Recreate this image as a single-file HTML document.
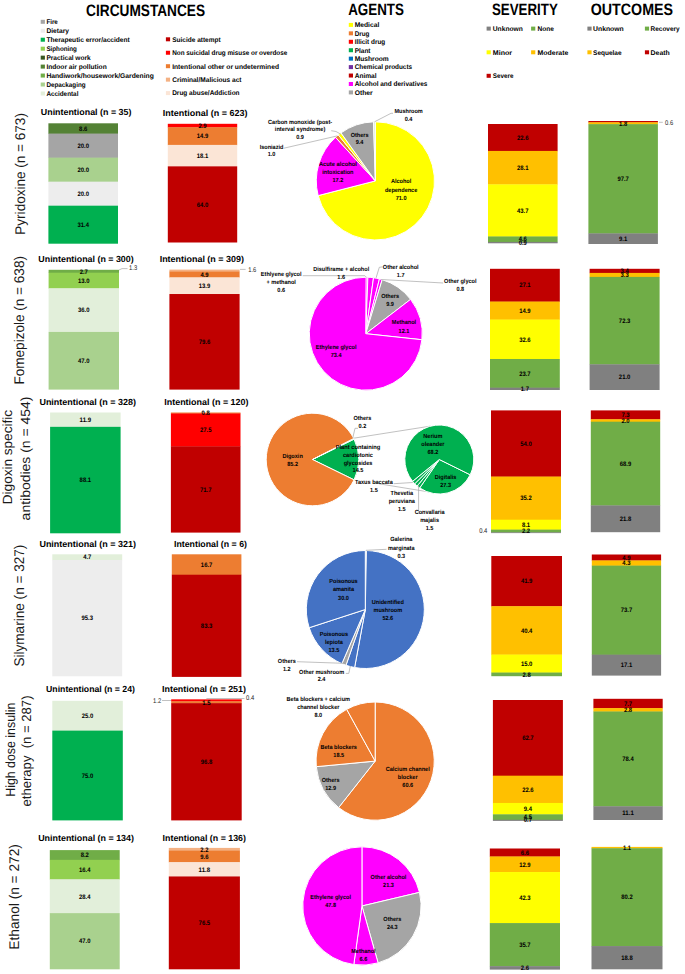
<!DOCTYPE html>
<html><head><meta charset="utf-8"><style>
html,body{margin:0;padding:0;background:#fff;}
svg{display:block;font-family:"Liberation Sans", sans-serif;text-rendering:geometricPrecision;}
</style></head><body>
<svg width="685" height="974" viewBox="0 0 685 974">
<rect width="685" height="974" fill="#fff"/>
<text x="145.60" y="15.90" font-size="16.5" font-weight="bold" text-anchor="middle" fill="#000" textLength="119" lengthAdjust="spacingAndGlyphs">CIRCUMSTANCES</text>
<text x="376.10" y="14.90" font-size="16.5" font-weight="bold" text-anchor="middle" fill="#000" textLength="55.8" lengthAdjust="spacingAndGlyphs">AGENTS</text>
<text x="524.90" y="14.60" font-size="16.5" font-weight="bold" text-anchor="middle" fill="#000" textLength="65.8" lengthAdjust="spacingAndGlyphs">SEVERITY</text>
<text x="631.90" y="14.60" font-size="16.5" font-weight="bold" text-anchor="middle" fill="#000" textLength="82.3" lengthAdjust="spacingAndGlyphs">OUTCOMES</text>
<rect x="40.70" y="19.80" width="4.20" height="4.00" fill="#a5a5a5"/>
<text x="46.40" y="24.10" font-size="6.75" font-weight="bold" text-anchor="start" fill="#000" textLength="11.4" lengthAdjust="spacingAndGlyphs">Fire</text>
<rect x="40.70" y="28.76" width="4.20" height="4.00" fill="#ededed"/>
<text x="46.40" y="33.06" font-size="6.75" font-weight="bold" text-anchor="start" fill="#000" textLength="22.6" lengthAdjust="spacingAndGlyphs">Dietary</text>
<rect x="40.70" y="37.72" width="4.20" height="4.00" fill="#00b050"/>
<text x="46.40" y="42.02" font-size="6.75" font-weight="bold" text-anchor="start" fill="#000" textLength="83.4" lengthAdjust="spacingAndGlyphs">Therapeutic error/accident</text>
<rect x="40.70" y="46.68" width="4.20" height="4.00" fill="#92d050"/>
<text x="46.40" y="50.98" font-size="6.75" font-weight="bold" text-anchor="start" fill="#000" textLength="30.5" lengthAdjust="spacingAndGlyphs">Siphoning</text>
<rect x="40.70" y="55.64" width="4.20" height="4.00" fill="#375623"/>
<text x="46.40" y="59.94" font-size="6.75" font-weight="bold" text-anchor="start" fill="#000" textLength="44.2" lengthAdjust="spacingAndGlyphs">Practical work</text>
<rect x="40.70" y="64.60" width="4.20" height="4.00" fill="#548235"/>
<text x="46.40" y="68.90" font-size="6.75" font-weight="bold" text-anchor="start" fill="#000" textLength="60.3" lengthAdjust="spacingAndGlyphs">Indoor air pollution</text>
<rect x="40.70" y="73.56" width="4.20" height="4.00" fill="#70ad47"/>
<text x="46.40" y="77.86" font-size="6.75" font-weight="bold" text-anchor="start" fill="#000" textLength="107.4" lengthAdjust="spacingAndGlyphs">Handiwork/housework/Gardening</text>
<rect x="40.70" y="82.52" width="4.20" height="4.00" fill="#a9d18e"/>
<text x="46.40" y="86.82" font-size="6.75" font-weight="bold" text-anchor="start" fill="#000" textLength="39.2" lengthAdjust="spacingAndGlyphs">Depackaging</text>
<rect x="40.70" y="91.48" width="4.20" height="4.00" fill="#e2efda"/>
<text x="46.40" y="95.78" font-size="6.75" font-weight="bold" text-anchor="start" fill="#000" textLength="32" lengthAdjust="spacingAndGlyphs">Accidental</text>
<rect x="165.90" y="37.30" width="4.20" height="4.00" fill="#c00000"/>
<text x="172.20" y="41.60" font-size="6.75" font-weight="bold" text-anchor="start" fill="#000" textLength="48.5" lengthAdjust="spacingAndGlyphs">Suicide attempt</text>
<rect x="165.90" y="50.75" width="4.20" height="4.00" fill="#ff0000"/>
<text x="172.20" y="55.05" font-size="6.75" font-weight="bold" text-anchor="start" fill="#000" textLength="115.1" lengthAdjust="spacingAndGlyphs">Non suicidal drug misuse or overdose</text>
<rect x="165.90" y="64.20" width="4.20" height="4.00" fill="#ed7d31"/>
<text x="172.20" y="68.50" font-size="6.75" font-weight="bold" text-anchor="start" fill="#000" textLength="106.8" lengthAdjust="spacingAndGlyphs">Intentional other or undetermined</text>
<rect x="165.90" y="77.65" width="4.20" height="4.00" fill="#f4b183"/>
<text x="172.20" y="81.95" font-size="6.75" font-weight="bold" text-anchor="start" fill="#000" textLength="69.3" lengthAdjust="spacingAndGlyphs">Criminal/Malicious act</text>
<rect x="165.90" y="91.10" width="4.20" height="4.00" fill="#fbe5d6"/>
<text x="172.20" y="95.40" font-size="6.75" font-weight="bold" text-anchor="start" fill="#000" textLength="67.4" lengthAdjust="spacingAndGlyphs">Drug abuse/Addiction</text>
<rect x="348.80" y="22.90" width="4.20" height="4.00" fill="#ffff00"/>
<text x="354.70" y="27.20" font-size="6.75" font-weight="bold" text-anchor="start" fill="#000" textLength="24.6" lengthAdjust="spacingAndGlyphs">Medical</text>
<rect x="348.80" y="31.34" width="4.20" height="4.00" fill="#ed7d31"/>
<text x="354.70" y="35.64" font-size="6.75" font-weight="bold" text-anchor="start" fill="#000" textLength="14.7" lengthAdjust="spacingAndGlyphs">Drug</text>
<rect x="348.80" y="39.78" width="4.20" height="4.00" fill="#ff0000"/>
<text x="354.70" y="44.08" font-size="6.75" font-weight="bold" text-anchor="start" fill="#000" textLength="30.5" lengthAdjust="spacingAndGlyphs">Illicit drug</text>
<rect x="348.80" y="48.22" width="4.20" height="4.00" fill="#00b050"/>
<text x="354.70" y="52.52" font-size="6.75" font-weight="bold" text-anchor="start" fill="#000" textLength="15.8" lengthAdjust="spacingAndGlyphs">Plant</text>
<rect x="348.80" y="56.66" width="4.20" height="4.00" fill="#0070c0"/>
<text x="354.70" y="60.96" font-size="6.75" font-weight="bold" text-anchor="start" fill="#000" textLength="34" lengthAdjust="spacingAndGlyphs">Mushroom</text>
<rect x="348.80" y="65.10" width="4.20" height="4.00" fill="#7030a0"/>
<text x="354.70" y="69.40" font-size="6.75" font-weight="bold" text-anchor="start" fill="#000" textLength="57.4" lengthAdjust="spacingAndGlyphs">Chemical products</text>
<rect x="348.80" y="73.54" width="4.20" height="4.00" fill="#c00000"/>
<text x="354.70" y="77.84" font-size="6.75" font-weight="bold" text-anchor="start" fill="#000" textLength="21.9" lengthAdjust="spacingAndGlyphs">Animal</text>
<rect x="348.80" y="81.98" width="4.20" height="4.00" fill="#ff00ff"/>
<text x="354.70" y="86.28" font-size="6.75" font-weight="bold" text-anchor="start" fill="#000" textLength="72.7" lengthAdjust="spacingAndGlyphs">Alcohol and derivatives</text>
<rect x="348.80" y="90.42" width="4.20" height="4.00" fill="#a5a5a5"/>
<text x="354.70" y="94.72" font-size="6.75" font-weight="bold" text-anchor="start" fill="#000" textLength="18" lengthAdjust="spacingAndGlyphs">Other</text>
<rect x="486.60" y="26.60" width="4.20" height="4.00" fill="#808080"/>
<text x="492.80" y="30.90" font-size="6.75" font-weight="bold" text-anchor="start" fill="#000" textLength="30" lengthAdjust="spacingAndGlyphs">Unknown</text>
<rect x="531.10" y="26.60" width="4.20" height="4.00" fill="#70ad47"/>
<text x="537.60" y="30.90" font-size="6.75" font-weight="bold" text-anchor="start" fill="#000" textLength="16.4" lengthAdjust="spacingAndGlyphs">None</text>
<rect x="486.60" y="50.30" width="4.20" height="4.00" fill="#ffff00"/>
<text x="492.80" y="54.60" font-size="6.75" font-weight="bold" text-anchor="start" fill="#000" textLength="19.2" lengthAdjust="spacingAndGlyphs">Minor</text>
<rect x="531.10" y="50.30" width="4.20" height="4.00" fill="#ffc000"/>
<text x="537.60" y="54.60" font-size="6.75" font-weight="bold" text-anchor="start" fill="#000" textLength="30.8" lengthAdjust="spacingAndGlyphs">Moderate</text>
<rect x="486.60" y="73.80" width="4.20" height="4.00" fill="#c00000"/>
<text x="492.80" y="78.10" font-size="6.75" font-weight="bold" text-anchor="start" fill="#000" textLength="20.7" lengthAdjust="spacingAndGlyphs">Severe</text>
<rect x="587.40" y="26.60" width="4.20" height="4.00" fill="#808080"/>
<text x="593.10" y="30.90" font-size="6.75" font-weight="bold" text-anchor="start" fill="#000" textLength="30.6" lengthAdjust="spacingAndGlyphs">Unknown</text>
<rect x="644.90" y="26.60" width="4.20" height="4.00" fill="#70ad47"/>
<text x="650.60" y="30.90" font-size="6.75" font-weight="bold" text-anchor="start" fill="#000" textLength="29" lengthAdjust="spacingAndGlyphs">Recovery</text>
<rect x="587.40" y="50.30" width="4.20" height="4.00" fill="#ffc000"/>
<text x="593.10" y="54.60" font-size="6.75" font-weight="bold" text-anchor="start" fill="#000" textLength="28.5" lengthAdjust="spacingAndGlyphs">Sequelae</text>
<rect x="644.90" y="50.30" width="4.20" height="4.00" fill="#c00000"/>
<text x="650.60" y="54.60" font-size="6.75" font-weight="bold" text-anchor="start" fill="#000" textLength="19.2" lengthAdjust="spacingAndGlyphs">Death</text>
<text transform="translate(24.70,173.90) rotate(-90)" x="0" y="0" font-size="14" text-anchor="middle" fill="#1a1a1a" textLength="121.6" lengthAdjust="spacingAndGlyphs">Pyridoxine (n = 673)</text>
<text transform="translate(24.00,320.30) rotate(-90)" x="0" y="0" font-size="14" text-anchor="middle" fill="#1a1a1a" textLength="128.5" lengthAdjust="spacingAndGlyphs">Fomepizole (n = 638)</text>
<text transform="translate(12.00,457.10) rotate(-90)" x="0" y="0" font-size="13.3" text-anchor="middle" fill="#1a1a1a" textLength="94.2" lengthAdjust="spacingAndGlyphs">Digoxin specific</text>
<text transform="translate(30.20,458.45) rotate(-90)" x="0" y="0" font-size="13.3" text-anchor="middle" fill="#1a1a1a" textLength="123.9" lengthAdjust="spacingAndGlyphs">antibodies (n = 454)</text>
<text transform="translate(24.40,605.60) rotate(-90)" x="0" y="0" font-size="14" text-anchor="middle" fill="#1a1a1a" textLength="122.0" lengthAdjust="spacingAndGlyphs">Silymarine (n = 327)</text>
<text transform="translate(15.40,749.70) rotate(-90)" x="0" y="0" font-size="13.3" text-anchor="middle" fill="#1a1a1a" textLength="94.2" lengthAdjust="spacingAndGlyphs">High dose insulin</text>
<text transform="translate(31.40,751.00) rotate(-90)" x="0" y="0" font-size="13.3" text-anchor="middle" fill="#1a1a1a" textLength="111.0" lengthAdjust="spacingAndGlyphs">etherapy&#160; (n = 287)</text>
<text transform="translate(19.00,896.90) rotate(-90)" x="0" y="0" font-size="14" text-anchor="middle" fill="#1a1a1a" textLength="105.5" lengthAdjust="spacingAndGlyphs">Ethanol (n = 272)</text>
<text x="86.10" y="115.00" font-size="8.8" font-weight="bold" text-anchor="middle" fill="#000" textLength="90.6" lengthAdjust="spacingAndGlyphs">Unintentional (n = 35)</text>
<text x="205.10" y="116.00" font-size="8.8" font-weight="bold" text-anchor="middle" fill="#000" textLength="84.6" lengthAdjust="spacingAndGlyphs">Intentional (n = 623)</text>
<text x="86.00" y="262.30" font-size="8.8" font-weight="bold" text-anchor="middle" fill="#000" textLength="95.3" lengthAdjust="spacingAndGlyphs">Unintentional (n = 300)</text>
<text x="201.80" y="262.30" font-size="8.8" font-weight="bold" text-anchor="middle" fill="#000" textLength="84.3" lengthAdjust="spacingAndGlyphs">Intentional (n = 309)</text>
<text x="87.70" y="404.70" font-size="8.8" font-weight="bold" text-anchor="middle" fill="#000" textLength="96.6" lengthAdjust="spacingAndGlyphs">Unintentional (n = 328)</text>
<text x="206.40" y="404.70" font-size="8.8" font-weight="bold" text-anchor="middle" fill="#000" textLength="84.3" lengthAdjust="spacingAndGlyphs">Intentional (n = 120)</text>
<text x="87.70" y="546.60" font-size="8.8" font-weight="bold" text-anchor="middle" fill="#000" textLength="96.6" lengthAdjust="spacingAndGlyphs">Unintentional (n = 321)</text>
<text x="210.50" y="546.60" font-size="8.8" font-weight="bold" text-anchor="middle" fill="#000" textLength="73" lengthAdjust="spacingAndGlyphs">Intentional (n = 6)</text>
<text x="90.50" y="692.30" font-size="8.8" font-weight="bold" text-anchor="middle" fill="#000" textLength="88.9" lengthAdjust="spacingAndGlyphs">Unintentional (n = 24)</text>
<text x="204.00" y="692.30" font-size="8.8" font-weight="bold" text-anchor="middle" fill="#000" textLength="84" lengthAdjust="spacingAndGlyphs">Intentional (n = 251)</text>
<text x="86.10" y="840.50" font-size="8.8" font-weight="bold" text-anchor="middle" fill="#000" textLength="95.8" lengthAdjust="spacingAndGlyphs">Unintentional (n = 134)</text>
<text x="204.30" y="840.50" font-size="8.8" font-weight="bold" text-anchor="middle" fill="#000" textLength="83.4" lengthAdjust="spacingAndGlyphs">Intentional (n = 136)</text>
<rect x="48.40" y="123.30" width="69.60" height="10.63" fill="#548235"/>
<rect x="48.40" y="133.63" width="69.60" height="24.32" fill="#a5a5a5"/>
<rect x="48.40" y="157.65" width="69.60" height="24.32" fill="#a9d18e"/>
<rect x="48.40" y="181.67" width="69.60" height="24.32" fill="#ededed"/>
<rect x="48.40" y="205.69" width="69.60" height="38.01" fill="#00b050"/>
<text x="83.20" y="130.77" font-size="6.4" font-weight="bold" text-anchor="middle" fill="#000" textLength="8.18" lengthAdjust="spacingAndGlyphs">8.6</text>
<text x="83.20" y="147.94" font-size="6.4" font-weight="bold" text-anchor="middle" fill="#000" textLength="11.46" lengthAdjust="spacingAndGlyphs">20.0</text>
<text x="83.20" y="171.96" font-size="6.4" font-weight="bold" text-anchor="middle" fill="#000" textLength="11.46" lengthAdjust="spacingAndGlyphs">20.0</text>
<text x="83.20" y="195.98" font-size="6.4" font-weight="bold" text-anchor="middle" fill="#000" textLength="11.46" lengthAdjust="spacingAndGlyphs">20.0</text>
<text x="83.20" y="226.85" font-size="6.4" font-weight="bold" text-anchor="middle" fill="#000" textLength="11.46" lengthAdjust="spacingAndGlyphs">31.4</text>
<rect x="167.80" y="123.80" width="69.40" height="3.74" fill="#ff0000"/>
<rect x="167.80" y="127.24" width="69.40" height="17.96" fill="#ed7d31"/>
<rect x="167.80" y="144.90" width="69.40" height="21.75" fill="#fbe5d6"/>
<rect x="167.80" y="166.35" width="69.40" height="76.15" fill="#c00000"/>
<text x="202.50" y="127.82" font-size="6.4" font-weight="bold" text-anchor="middle" fill="#000" textLength="8.18" lengthAdjust="spacingAndGlyphs">2.9</text>
<text x="202.50" y="138.37" font-size="6.4" font-weight="bold" text-anchor="middle" fill="#000" textLength="11.46" lengthAdjust="spacingAndGlyphs">14.9</text>
<text x="202.50" y="157.93" font-size="6.4" font-weight="bold" text-anchor="middle" fill="#000" textLength="11.46" lengthAdjust="spacingAndGlyphs">18.1</text>
<text x="202.50" y="206.58" font-size="6.4" font-weight="bold" text-anchor="middle" fill="#000" textLength="11.46" lengthAdjust="spacingAndGlyphs">64.0</text>
<rect x="488.00" y="124.00" width="69.60" height="27.22" fill="#c00000"/>
<rect x="488.00" y="150.92" width="69.60" height="33.77" fill="#ffc000"/>
<rect x="488.00" y="184.39" width="69.60" height="52.36" fill="#ffff00"/>
<rect x="488.00" y="236.45" width="69.60" height="5.78" fill="#70ad47"/>
<rect x="488.00" y="241.93" width="69.60" height="1.37" fill="#808080"/>
<text x="522.80" y="139.76" font-size="6.4" font-weight="bold" text-anchor="middle" fill="#000" textLength="11.46" lengthAdjust="spacingAndGlyphs">22.6</text>
<text x="522.80" y="169.96" font-size="6.4" font-weight="bold" text-anchor="middle" fill="#000" textLength="11.46" lengthAdjust="spacingAndGlyphs">28.1</text>
<text x="522.80" y="212.72" font-size="6.4" font-weight="bold" text-anchor="middle" fill="#000" textLength="11.46" lengthAdjust="spacingAndGlyphs">43.7</text>
<text x="522.80" y="241.49" font-size="6.4" font-weight="bold" text-anchor="middle" fill="#000" textLength="8.18" lengthAdjust="spacingAndGlyphs">4.6</text>
<text x="522.80" y="244.77" font-size="6.4" font-weight="bold" text-anchor="middle" fill="#000" textLength="8.18" lengthAdjust="spacingAndGlyphs">0.9</text>
<rect x="588.40" y="121.00" width="69.50" height="1.60" fill="#c00000"/>
<rect x="588.40" y="122.30" width="69.50" height="2.14" fill="#ffc000"/>
<rect x="588.40" y="124.14" width="69.50" height="109.55" fill="#70ad47"/>
<rect x="588.40" y="233.39" width="69.50" height="10.61" fill="#808080"/>
<text x="623.15" y="125.53" font-size="6.4" font-weight="bold" text-anchor="middle" fill="#000" textLength="8.18" lengthAdjust="spacingAndGlyphs">1.8</text>
<text x="623.15" y="181.07" font-size="6.4" font-weight="bold" text-anchor="middle" fill="#000" textLength="11.46" lengthAdjust="spacingAndGlyphs">97.7</text>
<text x="623.15" y="240.85" font-size="6.4" font-weight="bold" text-anchor="middle" fill="#000" textLength="8.18" lengthAdjust="spacingAndGlyphs">9.1</text>
<rect x="48.60" y="269.80" width="70.40" height="3.20" fill="#70ad47"/>
<rect x="48.60" y="272.70" width="70.40" height="15.91" fill="#92d050"/>
<rect x="48.60" y="288.32" width="70.40" height="43.94" fill="#e2efda"/>
<rect x="48.60" y="331.95" width="70.40" height="57.65" fill="#a9d18e"/>
<text x="83.80" y="273.56" font-size="6.4" font-weight="bold" text-anchor="middle" fill="#000" textLength="8.18" lengthAdjust="spacingAndGlyphs">2.7</text>
<text x="83.80" y="282.81" font-size="6.4" font-weight="bold" text-anchor="middle" fill="#000" textLength="11.46" lengthAdjust="spacingAndGlyphs">13.0</text>
<text x="83.80" y="312.44" font-size="6.4" font-weight="bold" text-anchor="middle" fill="#000" textLength="11.46" lengthAdjust="spacingAndGlyphs">36.0</text>
<text x="83.80" y="362.93" font-size="6.4" font-weight="bold" text-anchor="middle" fill="#000" textLength="11.46" lengthAdjust="spacingAndGlyphs">47.0</text>
<rect x="169.40" y="269.60" width="70.20" height="2.22" fill="#f4b183"/>
<rect x="169.40" y="271.52" width="70.20" height="6.17" fill="#ed7d31"/>
<rect x="169.40" y="277.38" width="70.20" height="16.94" fill="#fbe5d6"/>
<rect x="169.40" y="294.02" width="70.20" height="95.58" fill="#c00000"/>
<text x="204.50" y="276.75" font-size="6.4" font-weight="bold" text-anchor="middle" fill="#000" textLength="8.18" lengthAdjust="spacingAndGlyphs">4.9</text>
<text x="204.50" y="288.00" font-size="6.4" font-weight="bold" text-anchor="middle" fill="#000" textLength="11.46" lengthAdjust="spacingAndGlyphs">13.9</text>
<text x="204.50" y="343.96" font-size="6.4" font-weight="bold" text-anchor="middle" fill="#000" textLength="11.46" lengthAdjust="spacingAndGlyphs">79.6</text>
<rect x="490.00" y="268.80" width="69.80" height="33.06" fill="#c00000"/>
<rect x="490.00" y="301.56" width="69.80" height="18.31" fill="#ffc000"/>
<rect x="490.00" y="319.58" width="69.80" height="39.71" fill="#ffff00"/>
<rect x="490.00" y="358.99" width="69.80" height="28.95" fill="#70ad47"/>
<rect x="490.00" y="387.64" width="69.80" height="2.36" fill="#808080"/>
<text x="524.90" y="287.49" font-size="6.4" font-weight="bold" text-anchor="middle" fill="#000" textLength="11.46" lengthAdjust="spacingAndGlyphs">27.1</text>
<text x="524.90" y="312.87" font-size="6.4" font-weight="bold" text-anchor="middle" fill="#000" textLength="11.46" lengthAdjust="spacingAndGlyphs">14.9</text>
<text x="524.90" y="341.59" font-size="6.4" font-weight="bold" text-anchor="middle" fill="#000" textLength="11.46" lengthAdjust="spacingAndGlyphs">32.6</text>
<text x="524.90" y="375.62" font-size="6.4" font-weight="bold" text-anchor="middle" fill="#000" textLength="11.46" lengthAdjust="spacingAndGlyphs">23.7</text>
<text x="524.90" y="390.98" font-size="6.4" font-weight="bold" text-anchor="middle" fill="#000" textLength="8.18" lengthAdjust="spacingAndGlyphs">1.7</text>
<rect x="589.60" y="268.80" width="70.00" height="4.41" fill="#c00000"/>
<rect x="589.60" y="272.91" width="70.00" height="4.29" fill="#ffc000"/>
<rect x="589.60" y="276.90" width="70.00" height="87.71" fill="#70ad47"/>
<rect x="589.60" y="364.31" width="70.00" height="25.69" fill="#808080"/>
<text x="624.60" y="273.16" font-size="6.4" font-weight="bold" text-anchor="middle" fill="#000" textLength="8.18" lengthAdjust="spacingAndGlyphs">3.4</text>
<text x="624.60" y="277.21" font-size="6.4" font-weight="bold" text-anchor="middle" fill="#000" textLength="8.18" lengthAdjust="spacingAndGlyphs">3.3</text>
<text x="624.60" y="322.91" font-size="6.4" font-weight="bold" text-anchor="middle" fill="#000" textLength="11.46" lengthAdjust="spacingAndGlyphs">72.3</text>
<text x="624.60" y="379.31" font-size="6.4" font-weight="bold" text-anchor="middle" fill="#000" textLength="11.46" lengthAdjust="spacingAndGlyphs">21.0</text>
<rect x="50.10" y="412.50" width="70.50" height="14.64" fill="#e2efda"/>
<rect x="50.10" y="426.84" width="70.50" height="106.46" fill="#00b050"/>
<text x="85.35" y="421.97" font-size="6.4" font-weight="bold" text-anchor="middle" fill="#000" textLength="11.46" lengthAdjust="spacingAndGlyphs">11.9</text>
<text x="85.35" y="482.22" font-size="6.4" font-weight="bold" text-anchor="middle" fill="#000" textLength="11.46" lengthAdjust="spacingAndGlyphs">88.1</text>
<rect x="170.90" y="412.50" width="69.60" height="1.26" fill="#ed7d31"/>
<rect x="170.90" y="413.46" width="69.60" height="33.25" fill="#ff0000"/>
<rect x="170.90" y="446.40" width="69.60" height="86.20" fill="#c00000"/>
<text x="205.70" y="415.28" font-size="6.4" font-weight="bold" text-anchor="middle" fill="#000" textLength="8.18" lengthAdjust="spacingAndGlyphs">0.8</text>
<text x="205.70" y="432.23" font-size="6.4" font-weight="bold" text-anchor="middle" fill="#000" textLength="11.46" lengthAdjust="spacingAndGlyphs">27.5</text>
<text x="205.70" y="491.66" font-size="6.4" font-weight="bold" text-anchor="middle" fill="#000" textLength="11.46" lengthAdjust="spacingAndGlyphs">71.7</text>
<rect x="491.00" y="410.40" width="70.00" height="66.46" fill="#c00000"/>
<rect x="491.00" y="476.56" width="70.00" height="43.43" fill="#ffc000"/>
<rect x="491.00" y="519.69" width="70.00" height="10.22" fill="#ffff00"/>
<rect x="491.00" y="529.61" width="70.00" height="3.00" fill="#70ad47"/>
<rect x="491.00" y="532.31" width="70.00" height="0.79" fill="#808080"/>
<text x="526.00" y="445.79" font-size="6.4" font-weight="bold" text-anchor="middle" fill="#000" textLength="11.46" lengthAdjust="spacingAndGlyphs">54.0</text>
<text x="526.00" y="500.43" font-size="6.4" font-weight="bold" text-anchor="middle" fill="#000" textLength="11.46" lengthAdjust="spacingAndGlyphs">35.2</text>
<text x="526.00" y="526.96" font-size="6.4" font-weight="bold" text-anchor="middle" fill="#000" textLength="8.18" lengthAdjust="spacingAndGlyphs">8.1</text>
<text x="526.00" y="533.27" font-size="6.4" font-weight="bold" text-anchor="middle" fill="#000" textLength="8.18" lengthAdjust="spacingAndGlyphs">2.2</text>
<rect x="590.80" y="410.40" width="69.40" height="9.17" fill="#c00000"/>
<rect x="590.80" y="419.27" width="69.40" height="2.73" fill="#ffc000"/>
<rect x="590.80" y="421.70" width="69.40" height="84.01" fill="#70ad47"/>
<rect x="590.80" y="505.41" width="69.40" height="26.79" fill="#808080"/>
<text x="625.50" y="417.14" font-size="6.4" font-weight="bold" text-anchor="middle" fill="#000" textLength="8.18" lengthAdjust="spacingAndGlyphs">7.3</text>
<text x="625.50" y="422.79" font-size="6.4" font-weight="bold" text-anchor="middle" fill="#000" textLength="8.18" lengthAdjust="spacingAndGlyphs">2.0</text>
<text x="625.50" y="465.86" font-size="6.4" font-weight="bold" text-anchor="middle" fill="#000" textLength="11.46" lengthAdjust="spacingAndGlyphs">68.9</text>
<text x="625.50" y="520.96" font-size="6.4" font-weight="bold" text-anchor="middle" fill="#000" textLength="11.46" lengthAdjust="spacingAndGlyphs">21.8</text>
<rect x="52.30" y="554.30" width="69.90" height="6.02" fill="#e2efda"/>
<rect x="52.30" y="560.02" width="69.90" height="116.28" fill="#ededed"/>
<text x="87.25" y="559.46" font-size="6.4" font-weight="bold" text-anchor="middle" fill="#000" textLength="8.18" lengthAdjust="spacingAndGlyphs">4.7</text>
<text x="87.25" y="620.31" font-size="6.4" font-weight="bold" text-anchor="middle" fill="#000" textLength="11.46" lengthAdjust="spacingAndGlyphs">95.3</text>
<rect x="171.80" y="554.30" width="69.60" height="20.72" fill="#ed7d31"/>
<rect x="171.80" y="574.72" width="69.60" height="102.18" fill="#c00000"/>
<text x="206.60" y="566.82" font-size="6.4" font-weight="bold" text-anchor="middle" fill="#000" textLength="11.46" lengthAdjust="spacingAndGlyphs">16.7</text>
<text x="206.60" y="627.97" font-size="6.4" font-weight="bold" text-anchor="middle" fill="#000" textLength="11.46" lengthAdjust="spacingAndGlyphs">83.3</text>
<rect x="491.30" y="556.00" width="70.70" height="50.49" fill="#c00000"/>
<rect x="491.30" y="606.19" width="70.70" height="48.69" fill="#ffc000"/>
<rect x="491.30" y="654.58" width="70.70" height="18.27" fill="#ffff00"/>
<rect x="491.30" y="672.55" width="70.70" height="3.65" fill="#70ad47"/>
<text x="526.65" y="583.40" font-size="6.4" font-weight="bold" text-anchor="middle" fill="#000" textLength="11.46" lengthAdjust="spacingAndGlyphs">41.9</text>
<text x="526.65" y="632.69" font-size="6.4" font-weight="bold" text-anchor="middle" fill="#000" textLength="11.46" lengthAdjust="spacingAndGlyphs">40.4</text>
<text x="526.65" y="665.87" font-size="6.4" font-weight="bold" text-anchor="middle" fill="#000" textLength="11.46" lengthAdjust="spacingAndGlyphs">15.0</text>
<text x="526.65" y="676.53" font-size="6.4" font-weight="bold" text-anchor="middle" fill="#000" textLength="8.18" lengthAdjust="spacingAndGlyphs">2.8</text>
<rect x="591.80" y="554.50" width="69.30" height="6.22" fill="#c00000"/>
<rect x="591.80" y="560.42" width="69.30" height="5.49" fill="#ffc000"/>
<rect x="591.80" y="565.61" width="69.30" height="89.33" fill="#70ad47"/>
<rect x="591.80" y="654.64" width="69.30" height="20.96" fill="#808080"/>
<text x="626.45" y="559.76" font-size="6.4" font-weight="bold" text-anchor="middle" fill="#000" textLength="8.18" lengthAdjust="spacingAndGlyphs">4.9</text>
<text x="626.45" y="565.32" font-size="6.4" font-weight="bold" text-anchor="middle" fill="#000" textLength="8.18" lengthAdjust="spacingAndGlyphs">4.3</text>
<text x="626.45" y="612.43" font-size="6.4" font-weight="bold" text-anchor="middle" fill="#000" textLength="11.46" lengthAdjust="spacingAndGlyphs">73.7</text>
<text x="626.45" y="667.28" font-size="6.4" font-weight="bold" text-anchor="middle" fill="#000" textLength="11.46" lengthAdjust="spacingAndGlyphs">17.1</text>
<rect x="52.30" y="700.80" width="70.50" height="30.12" fill="#e2efda"/>
<rect x="52.30" y="730.62" width="70.50" height="89.77" fill="#00b050"/>
<text x="87.55" y="718.02" font-size="6.4" font-weight="bold" text-anchor="middle" fill="#000" textLength="11.46" lengthAdjust="spacingAndGlyphs">25.0</text>
<text x="87.55" y="777.67" font-size="6.4" font-weight="bold" text-anchor="middle" fill="#000" textLength="11.46" lengthAdjust="spacingAndGlyphs">75.0</text>
<rect x="171.20" y="699.40" width="70.50" height="0.78" fill="#ff0000"/>
<rect x="171.20" y="699.88" width="70.50" height="1.75" fill="#ff0000"/>
<rect x="171.20" y="701.33" width="70.50" height="2.11" fill="#ed7d31"/>
<rect x="171.20" y="703.15" width="70.50" height="117.25" fill="#c00000"/>
<text x="206.45" y="704.54" font-size="6.4" font-weight="bold" text-anchor="middle" fill="#000" textLength="8.18" lengthAdjust="spacingAndGlyphs">1.5</text>
<text x="206.45" y="763.93" font-size="6.4" font-weight="bold" text-anchor="middle" fill="#000" textLength="11.46" lengthAdjust="spacingAndGlyphs">96.8</text>
<rect x="492.90" y="700.00" width="70.00" height="75.99" fill="#c00000"/>
<rect x="492.90" y="775.69" width="70.00" height="27.58" fill="#ffc000"/>
<rect x="492.90" y="802.97" width="70.00" height="11.65" fill="#ffff00"/>
<rect x="492.90" y="814.32" width="70.00" height="5.73" fill="#70ad47"/>
<rect x="492.90" y="819.75" width="70.00" height="1.15" fill="#808080"/>
<text x="527.90" y="740.15" font-size="6.4" font-weight="bold" text-anchor="middle" fill="#000" textLength="11.46" lengthAdjust="spacingAndGlyphs">62.7</text>
<text x="527.90" y="791.64" font-size="6.4" font-weight="bold" text-anchor="middle" fill="#000" textLength="11.46" lengthAdjust="spacingAndGlyphs">22.6</text>
<text x="527.90" y="810.95" font-size="6.4" font-weight="bold" text-anchor="middle" fill="#000" textLength="8.18" lengthAdjust="spacingAndGlyphs">9.4</text>
<text x="527.90" y="819.34" font-size="6.4" font-weight="bold" text-anchor="middle" fill="#000" textLength="8.18" lengthAdjust="spacingAndGlyphs">4.5</text>
<text x="527.90" y="822.48" font-size="6.4" font-weight="bold" text-anchor="middle" fill="#000" textLength="8.18" lengthAdjust="spacingAndGlyphs">0.7</text>
<rect x="593.40" y="698.80" width="69.30" height="9.61" fill="#c00000"/>
<rect x="593.40" y="708.11" width="69.30" height="3.69" fill="#ffc000"/>
<rect x="593.40" y="711.49" width="69.30" height="95.09" fill="#70ad47"/>
<rect x="593.40" y="806.28" width="69.30" height="13.72" fill="#808080"/>
<text x="628.05" y="705.76" font-size="6.4" font-weight="bold" text-anchor="middle" fill="#000" textLength="8.18" lengthAdjust="spacingAndGlyphs">7.7</text>
<text x="628.05" y="712.11" font-size="6.4" font-weight="bold" text-anchor="middle" fill="#000" textLength="8.18" lengthAdjust="spacingAndGlyphs">2.8</text>
<text x="628.05" y="761.19" font-size="6.4" font-weight="bold" text-anchor="middle" fill="#000" textLength="11.46" lengthAdjust="spacingAndGlyphs">78.4</text>
<text x="628.05" y="815.29" font-size="6.4" font-weight="bold" text-anchor="middle" fill="#000" textLength="11.46" lengthAdjust="spacingAndGlyphs">11.1</text>
<rect x="49.80" y="850.10" width="69.90" height="10.05" fill="#70ad47"/>
<rect x="49.80" y="859.85" width="69.90" height="19.80" fill="#92d050"/>
<rect x="49.80" y="879.35" width="69.90" height="34.07" fill="#e2efda"/>
<rect x="49.80" y="913.12" width="69.90" height="56.18" fill="#a9d18e"/>
<text x="84.75" y="857.28" font-size="6.4" font-weight="bold" text-anchor="middle" fill="#000" textLength="8.18" lengthAdjust="spacingAndGlyphs">8.2</text>
<text x="84.75" y="871.90" font-size="6.4" font-weight="bold" text-anchor="middle" fill="#000" textLength="11.46" lengthAdjust="spacingAndGlyphs">16.4</text>
<text x="84.75" y="898.54" font-size="6.4" font-weight="bold" text-anchor="middle" fill="#000" textLength="11.46" lengthAdjust="spacingAndGlyphs">28.4</text>
<text x="84.75" y="943.36" font-size="6.4" font-weight="bold" text-anchor="middle" fill="#000" textLength="11.46" lengthAdjust="spacingAndGlyphs">47.0</text>
<rect x="168.80" y="847.90" width="71.10" height="2.96" fill="#f4b183"/>
<rect x="168.80" y="850.56" width="71.10" height="11.91" fill="#ed7d31"/>
<rect x="168.80" y="862.18" width="71.10" height="14.58" fill="#fbe5d6"/>
<rect x="168.80" y="876.45" width="71.10" height="92.85" fill="#c00000"/>
<text x="204.35" y="851.53" font-size="6.4" font-weight="bold" text-anchor="middle" fill="#000" textLength="8.18" lengthAdjust="spacingAndGlyphs">2.2</text>
<text x="204.35" y="858.67" font-size="6.4" font-weight="bold" text-anchor="middle" fill="#000" textLength="8.18" lengthAdjust="spacingAndGlyphs">9.6</text>
<text x="204.35" y="871.62" font-size="6.4" font-weight="bold" text-anchor="middle" fill="#000" textLength="11.46" lengthAdjust="spacingAndGlyphs">11.8</text>
<text x="204.35" y="925.03" font-size="6.4" font-weight="bold" text-anchor="middle" fill="#000" textLength="11.46" lengthAdjust="spacingAndGlyphs">76.5</text>
<rect x="489.80" y="848.50" width="70.20" height="8.26" fill="#c00000"/>
<rect x="489.80" y="856.46" width="70.20" height="15.87" fill="#ffc000"/>
<rect x="489.80" y="872.03" width="70.20" height="51.35" fill="#ffff00"/>
<rect x="489.80" y="923.08" width="70.20" height="43.38" fill="#70ad47"/>
<rect x="489.80" y="966.16" width="70.20" height="3.44" fill="#808080"/>
<text x="524.90" y="854.79" font-size="6.4" font-weight="bold" text-anchor="middle" fill="#000" textLength="8.18" lengthAdjust="spacingAndGlyphs">6.6</text>
<text x="524.90" y="866.55" font-size="6.4" font-weight="bold" text-anchor="middle" fill="#000" textLength="11.46" lengthAdjust="spacingAndGlyphs">12.9</text>
<text x="524.90" y="899.86" font-size="6.4" font-weight="bold" text-anchor="middle" fill="#000" textLength="11.46" lengthAdjust="spacingAndGlyphs">42.3</text>
<text x="524.90" y="946.93" font-size="6.4" font-weight="bold" text-anchor="middle" fill="#000" textLength="11.46" lengthAdjust="spacingAndGlyphs">35.7</text>
<text x="524.90" y="970.04" font-size="6.4" font-weight="bold" text-anchor="middle" fill="#000" textLength="8.18" lengthAdjust="spacingAndGlyphs">2.6</text>
<rect x="591.50" y="846.90" width="71.00" height="1.64" fill="#ffc000"/>
<rect x="591.50" y="848.24" width="71.00" height="98.13" fill="#70ad47"/>
<rect x="591.50" y="946.07" width="71.00" height="23.23" fill="#808080"/>
<text x="627.00" y="849.87" font-size="6.4" font-weight="bold" text-anchor="middle" fill="#000" textLength="8.18" lengthAdjust="spacingAndGlyphs">1.1</text>
<text x="627.00" y="899.46" font-size="6.4" font-weight="bold" text-anchor="middle" fill="#000" textLength="11.46" lengthAdjust="spacingAndGlyphs">80.2</text>
<text x="627.00" y="959.84" font-size="6.4" font-weight="bold" text-anchor="middle" fill="#000" textLength="11.46" lengthAdjust="spacingAndGlyphs">18.8</text>
<polyline points="659.00,122.30 662.80,122.30" fill="none" stroke="#a6a6a6" stroke-width="0.7"/>
<text x="665.00" y="124.95" font-size="6.8" text-anchor="start" fill="#262626" textLength="8.13" lengthAdjust="spacingAndGlyphs">0.6</text>
<polyline points="119.00,270.00 122.00,268.60 127.50,268.60" fill="none" stroke="#a6a6a6" stroke-width="0.7"/>
<text x="129.00" y="270.45" font-size="6.8" text-anchor="start" fill="#262626" textLength="8.13" lengthAdjust="spacingAndGlyphs">1.3</text>
<polyline points="240.00,269.40 245.60,269.40" fill="none" stroke="#a6a6a6" stroke-width="0.7"/>
<text x="248.20" y="271.65" font-size="6.8" text-anchor="start" fill="#262626" textLength="8.13" lengthAdjust="spacingAndGlyphs">1.6</text>
<text x="479.20" y="533.35" font-size="6.8" text-anchor="start" fill="#262626" textLength="8.13" lengthAdjust="spacingAndGlyphs">0.4</text>
<polyline points="162.00,700.50 171.00,700.50" fill="none" stroke="#a6a6a6" stroke-width="0.7"/>
<text x="153.00" y="703.25" font-size="6.8" text-anchor="start" fill="#262626" textLength="8.13" lengthAdjust="spacingAndGlyphs">1.2</text>
<polyline points="206.40,698.50 244.50,698.50" fill="none" stroke="#a6a6a6" stroke-width="0.7"/>
<text x="246.00" y="700.25" font-size="6.8" text-anchor="start" fill="#262626" textLength="8.13" lengthAdjust="spacingAndGlyphs">0.4</text>
<path d="M375.40,180.90 L375.40,121.80 A59.1,59.1 0 1 1 318.16,195.60 Z" fill="#ffff00" stroke="#fff" stroke-width="1.0" stroke-linejoin="round"/>
<path d="M375.40,180.90 L318.16,195.60 A59.1,59.1 0 0 1 335.49,137.31 Z" fill="#ff00ff" stroke="#fff" stroke-width="1.0" stroke-linejoin="round"/>
<path d="M375.40,180.90 L335.49,137.31 A59.1,59.1 0 0 1 338.30,134.89 Z" fill="#ed7d31" stroke="#fff" stroke-width="1.0" stroke-linejoin="round"/>
<path d="M375.40,180.90 L338.30,134.89 A59.1,59.1 0 0 1 340.96,132.87 Z" fill="#ffff00" stroke="#fff" stroke-width="1.0" stroke-linejoin="round"/>
<path d="M375.40,180.90 L340.96,132.87 A59.1,59.1 0 0 1 373.54,121.83 Z" fill="#a5a5a5" stroke="#fff" stroke-width="1.0" stroke-linejoin="round"/>
<path d="M375.40,180.90 L373.54,121.83 A59.1,59.1 0 0 1 375.03,121.80 Z" fill="#c5e0b4" stroke="#fff" stroke-width="1.0" stroke-linejoin="round"/>
<path d="M365.75,333.70 L365.75,277.20 A56.5,56.5 0 0 1 367.88,277.24 Z" fill="#ff00ff" stroke="#fff" stroke-width="1.0" stroke-linejoin="round"/>
<path d="M365.75,333.70 L367.88,277.24 A56.5,56.5 0 0 1 373.54,277.74 Z" fill="#ff00ff" stroke="#fff" stroke-width="1.0" stroke-linejoin="round"/>
<path d="M365.75,333.70 L373.54,277.74 A56.5,56.5 0 0 1 379.46,278.89 Z" fill="#ff00ff" stroke="#fff" stroke-width="1.0" stroke-linejoin="round"/>
<path d="M365.75,333.70 L379.46,278.89 A56.5,56.5 0 0 1 382.19,279.65 Z" fill="#ff00ff" stroke="#fff" stroke-width="1.0" stroke-linejoin="round"/>
<path d="M365.75,333.70 L382.19,279.65 A56.5,56.5 0 0 1 410.61,299.35 Z" fill="#a5a5a5" stroke="#fff" stroke-width="1.0" stroke-linejoin="round"/>
<path d="M365.75,333.70 L410.61,299.35 A56.5,56.5 0 0 1 421.93,339.72 Z" fill="#ff00ff" stroke="#fff" stroke-width="1.0" stroke-linejoin="round"/>
<path d="M365.75,333.70 L421.93,339.72 A56.5,56.5 0 1 1 366.10,277.20 Z" fill="#ff00ff" stroke="#fff" stroke-width="1.0" stroke-linejoin="round"/>
<polyline points="353.00,438.30 430.50,426.10" fill="none" stroke="#a6a6a6" stroke-width="0.7"/>
<polyline points="379.00,483.80 426.30,491.50" fill="none" stroke="#a6a6a6" stroke-width="0.7"/>
<path d="M312.50,459.50 L354.08,439.13 A46.3,46.3 0 0 1 354.08,479.87 Z" fill="#00b050" stroke="#fff" stroke-width="1.0" stroke-linejoin="round"/>
<path d="M312.50,459.50 L354.08,479.87 A46.3,46.3 0 1 1 353.82,438.61 Z" fill="#ed7d31" stroke="#fff" stroke-width="1.0" stroke-linejoin="round"/>
<path d="M312.50,459.50 L353.82,438.61 A46.3,46.3 0 0 1 354.08,439.13 Z" fill="#00b050" stroke="#fff" stroke-width="1.0" stroke-linejoin="round"/>
<path d="M439.30,459.50 L470.23,474.79 A34.5,34.5 0 0 1 419.72,487.91 Z" fill="#00b050" stroke="#fff" stroke-width="1.0" stroke-linejoin="round"/>
<path d="M439.30,459.50 L419.72,487.91 A34.5,34.5 0 0 1 417.13,485.94 Z" fill="#00b050" stroke="#fff" stroke-width="1.0" stroke-linejoin="round"/>
<path d="M439.30,459.50 L417.13,485.94 A34.5,34.5 0 0 1 414.74,483.73 Z" fill="#00b050" stroke="#fff" stroke-width="1.0" stroke-linejoin="round"/>
<path d="M439.30,459.50 L414.74,483.73 A34.5,34.5 0 0 1 412.57,481.31 Z" fill="#00b050" stroke="#fff" stroke-width="1.0" stroke-linejoin="round"/>
<path d="M439.30,459.50 L412.57,481.31 A34.5,34.5 0 1 1 470.23,474.79 Z" fill="#00b050" stroke="#fff" stroke-width="1.0" stroke-linejoin="round"/>
<path d="M365.30,609.50 L365.30,550.50 A59.0,59.0 0 0 1 366.41,550.51 Z" fill="#4472c4" stroke="#fff" stroke-width="1.0" stroke-linejoin="round"/>
<path d="M365.30,609.50 L366.41,550.51 A59.0,59.0 0 1 1 354.61,667.52 Z" fill="#4472c4" stroke="#fff" stroke-width="1.0" stroke-linejoin="round"/>
<path d="M365.30,609.50 L354.61,667.52 A59.0,59.0 0 0 1 346.01,665.26 Z" fill="#4472c4" stroke="#fff" stroke-width="1.0" stroke-linejoin="round"/>
<path d="M365.30,609.50 L346.01,665.26 A59.0,59.0 0 0 1 341.87,663.65 Z" fill="#a5a5a5" stroke="#fff" stroke-width="1.0" stroke-linejoin="round"/>
<path d="M365.30,609.50 L341.87,663.65 A59.0,59.0 0 0 1 309.19,627.73 Z" fill="#4472c4" stroke="#fff" stroke-width="1.0" stroke-linejoin="round"/>
<path d="M365.30,609.50 L309.19,627.73 A59.0,59.0 0 0 1 365.30,550.50 Z" fill="#4472c4" stroke="#fff" stroke-width="1.0" stroke-linejoin="round"/>
<path d="M375.15,761.10 L375.15,702.00 A59.1,59.1 0 1 1 338.63,807.57 Z" fill="#ed7d31" stroke="#fff" stroke-width="1.0" stroke-linejoin="round"/>
<path d="M375.15,761.10 L338.63,807.57 A59.1,59.1 0 0 1 316.31,766.66 Z" fill="#a5a5a5" stroke="#fff" stroke-width="1.0" stroke-linejoin="round"/>
<path d="M375.15,761.10 L316.31,766.66 A59.1,59.1 0 0 1 346.68,709.31 Z" fill="#ed7d31" stroke="#fff" stroke-width="1.0" stroke-linejoin="round"/>
<path d="M375.15,761.10 L346.68,709.31 A59.1,59.1 0 0 1 375.15,702.00 Z" fill="#ed7d31" stroke="#fff" stroke-width="1.0" stroke-linejoin="round"/>
<path d="M361.95,906.00 L361.95,846.85 A59.15,59.15 0 0 1 419.51,892.37 Z" fill="#ff00ff" stroke="#fff" stroke-width="1.0" stroke-linejoin="round"/>
<path d="M361.95,906.00 L419.51,892.37 A59.15,59.15 0 0 1 378.10,962.90 Z" fill="#a5a5a5" stroke="#fff" stroke-width="1.0" stroke-linejoin="round"/>
<path d="M361.95,906.00 L378.10,962.90 A59.15,59.15 0 0 1 353.80,964.59 Z" fill="#ff00ff" stroke="#fff" stroke-width="1.0" stroke-linejoin="round"/>
<path d="M361.95,906.00 L353.80,964.59 A59.15,59.15 0 0 1 361.95,846.85 Z" fill="#ff00ff" stroke="#fff" stroke-width="1.0" stroke-linejoin="round"/>
<polyline points="374.50,121.80 391.00,113.30 393.00,113.30" fill="none" stroke="#a6a6a6" stroke-width="0.7"/>
<text x="408.60" y="113.36" font-size="6.0" font-weight="bold" text-anchor="middle" fill="#000" textLength="28.36" lengthAdjust="spacingAndGlyphs">Mushroom</text>
<text x="408.60" y="121.36" font-size="6.0" font-weight="bold" text-anchor="middle" fill="#000" textLength="7.71" lengthAdjust="spacingAndGlyphs">0.4</text>
<polyline points="331.20,130.70 336.00,131.50 340.80,134.20" fill="none" stroke="#a6a6a6" stroke-width="0.7"/>
<text x="300.10" y="123.56" font-size="6.0" font-weight="bold" text-anchor="middle" fill="#000" textLength="64" lengthAdjust="spacingAndGlyphs">Carbon  monoxide (post-</text>
<text x="300.10" y="131.26" font-size="6.0" font-weight="bold" text-anchor="middle" fill="#000" textLength="50.5" lengthAdjust="spacingAndGlyphs">interval syndrome)</text>
<text x="300.10" y="138.96" font-size="6.0" font-weight="bold" text-anchor="middle" fill="#000" textLength="7.71" lengthAdjust="spacingAndGlyphs">0.9</text>
<polyline points="283.90,148.20 337.30,135.90" fill="none" stroke="#a6a6a6" stroke-width="0.7"/>
<text x="271.50" y="148.56" font-size="6.0" font-weight="bold" text-anchor="middle" fill="#000" textLength="23.74" lengthAdjust="spacingAndGlyphs">Isoniazid</text>
<text x="271.50" y="156.16" font-size="6.0" font-weight="bold" text-anchor="middle" fill="#000" textLength="7.71" lengthAdjust="spacingAndGlyphs">1.0</text>
<text x="359.60" y="136.86" font-size="6.0" font-weight="bold" text-anchor="middle" fill="#000" textLength="17.89" lengthAdjust="spacingAndGlyphs">Others</text>
<text x="359.60" y="144.36" font-size="6.0" font-weight="bold" text-anchor="middle" fill="#000" textLength="7.71" lengthAdjust="spacingAndGlyphs">9.4</text>
<text x="337.90" y="166.36" font-size="6.0" font-weight="bold" text-anchor="middle" fill="#000" textLength="37.93" lengthAdjust="spacingAndGlyphs">Acute  alcohol</text>
<text x="337.90" y="174.36" font-size="6.0" font-weight="bold" text-anchor="middle" fill="#000" textLength="31.14" lengthAdjust="spacingAndGlyphs">intoxication</text>
<text x="337.90" y="182.36" font-size="6.0" font-weight="bold" text-anchor="middle" fill="#000" textLength="10.8" lengthAdjust="spacingAndGlyphs">17.2</text>
<text x="401.10" y="183.46" font-size="6.0" font-weight="bold" text-anchor="middle" fill="#000" textLength="20.35" lengthAdjust="spacingAndGlyphs">Alcohol</text>
<text x="401.10" y="191.76" font-size="6.0" font-weight="bold" text-anchor="middle" fill="#000" textLength="32.38" lengthAdjust="spacingAndGlyphs">dependence</text>
<text x="401.10" y="200.06" font-size="6.0" font-weight="bold" text-anchor="middle" fill="#000" textLength="10.8" lengthAdjust="spacingAndGlyphs">71.0</text>
<polyline points="302.70,275.70 364.90,275.70 366.60,277.40" fill="none" stroke="#a6a6a6" stroke-width="0.7"/>
<text x="281.20" y="276.06" font-size="6.0" font-weight="bold" text-anchor="middle" fill="#000" textLength="40.71" lengthAdjust="spacingAndGlyphs">Ethlyene glycol</text>
<text x="281.20" y="283.96" font-size="6.0" font-weight="bold" text-anchor="middle" fill="#000" textLength="29.45" lengthAdjust="spacingAndGlyphs">+ methanol</text>
<text x="281.20" y="291.86" font-size="6.0" font-weight="bold" text-anchor="middle" fill="#000" textLength="7.71" lengthAdjust="spacingAndGlyphs">0.6</text>
<text x="341.20" y="271.16" font-size="6.0" font-weight="bold" text-anchor="middle" fill="#000" textLength="55.98" lengthAdjust="spacingAndGlyphs">Disulfirame + alcohol</text>
<text x="341.20" y="279.06" font-size="6.0" font-weight="bold" text-anchor="middle" fill="#000" textLength="7.71" lengthAdjust="spacingAndGlyphs">1.6</text>
<polyline points="382.40,266.90 379.30,267.30 376.10,277.80" fill="none" stroke="#a6a6a6" stroke-width="0.7"/>
<text x="400.70" y="269.06" font-size="6.0" font-weight="bold" text-anchor="middle" fill="#000" textLength="35.77" lengthAdjust="spacingAndGlyphs">Other alcohol</text>
<text x="400.70" y="276.76" font-size="6.0" font-weight="bold" text-anchor="middle" fill="#000" textLength="7.71" lengthAdjust="spacingAndGlyphs">1.7</text>
<polyline points="443.20,283.00 381.00,279.50" fill="none" stroke="#a6a6a6" stroke-width="0.7"/>
<text x="460.30" y="283.06" font-size="6.0" font-weight="bold" text-anchor="middle" fill="#000" textLength="32.38" lengthAdjust="spacingAndGlyphs">Other glycol</text>
<text x="460.30" y="290.66" font-size="6.0" font-weight="bold" text-anchor="middle" fill="#000" textLength="7.71" lengthAdjust="spacingAndGlyphs">0.8</text>
<text x="390.10" y="298.16" font-size="6.0" font-weight="bold" text-anchor="middle" fill="#000" textLength="17.89" lengthAdjust="spacingAndGlyphs">Others</text>
<text x="390.10" y="306.36" font-size="6.0" font-weight="bold" text-anchor="middle" fill="#000" textLength="7.71" lengthAdjust="spacingAndGlyphs">9.9</text>
<text x="404.00" y="324.36" font-size="6.0" font-weight="bold" text-anchor="middle" fill="#000" textLength="24.35" lengthAdjust="spacingAndGlyphs">Methanol</text>
<text x="404.00" y="332.56" font-size="6.0" font-weight="bold" text-anchor="middle" fill="#000" textLength="10.8" lengthAdjust="spacingAndGlyphs">12.1</text>
<text x="336.10" y="348.76" font-size="6.0" font-weight="bold" text-anchor="middle" fill="#000" textLength="40.71" lengthAdjust="spacingAndGlyphs">Ethylene glycol</text>
<text x="336.10" y="356.56" font-size="6.0" font-weight="bold" text-anchor="middle" fill="#000" textLength="10.8" lengthAdjust="spacingAndGlyphs">73.4</text>
<text x="292.60" y="457.56" font-size="6.0" font-weight="bold" text-anchor="middle" fill="#000" textLength="20.35" lengthAdjust="spacingAndGlyphs">Digoxin</text>
<text x="292.60" y="465.66" font-size="6.0" font-weight="bold" text-anchor="middle" fill="#000" textLength="10.8" lengthAdjust="spacingAndGlyphs">85.2</text>
<text x="358.00" y="448.76" font-size="6.0" font-weight="bold" text-anchor="middle" fill="#000" textLength="44.71" lengthAdjust="spacingAndGlyphs">Plant  containing</text>
<text x="358.00" y="456.66" font-size="6.0" font-weight="bold" text-anchor="middle" fill="#000" textLength="29.91" lengthAdjust="spacingAndGlyphs">cardiotonic</text>
<text x="358.00" y="464.56" font-size="6.0" font-weight="bold" text-anchor="middle" fill="#000" textLength="28.68" lengthAdjust="spacingAndGlyphs">glycosides</text>
<text x="358.00" y="472.46" font-size="6.0" font-weight="bold" text-anchor="middle" fill="#000" textLength="10.8" lengthAdjust="spacingAndGlyphs">14.5</text>
<polyline points="358.00,428.30 355.00,428.30 352.80,437.90" fill="none" stroke="#a6a6a6" stroke-width="0.7"/>
<text x="362.40" y="419.66" font-size="6.0" font-weight="bold" text-anchor="middle" fill="#000" textLength="17.89" lengthAdjust="spacingAndGlyphs">Others</text>
<text x="362.40" y="427.86" font-size="6.0" font-weight="bold" text-anchor="middle" fill="#000" textLength="7.71" lengthAdjust="spacingAndGlyphs">0.2</text>
<text x="432.90" y="437.86" font-size="6.0" font-weight="bold" text-anchor="middle" fill="#000" textLength="19.12" lengthAdjust="spacingAndGlyphs">Nerium</text>
<text x="432.90" y="446.06" font-size="6.0" font-weight="bold" text-anchor="middle" fill="#000" textLength="23.13" lengthAdjust="spacingAndGlyphs">oleander</text>
<text x="432.90" y="454.26" font-size="6.0" font-weight="bold" text-anchor="middle" fill="#000" textLength="10.8" lengthAdjust="spacingAndGlyphs">68.2</text>
<text x="445.60" y="479.46" font-size="6.0" font-weight="bold" text-anchor="middle" fill="#000" textLength="21.59" lengthAdjust="spacingAndGlyphs">Digitalis</text>
<text x="445.60" y="487.06" font-size="6.0" font-weight="bold" text-anchor="middle" fill="#000" textLength="10.8" lengthAdjust="spacingAndGlyphs">27.3</text>
<polyline points="393.80,483.70 412.80,482.50" fill="none" stroke="#a6a6a6" stroke-width="0.7"/>
<text x="373.90" y="483.76" font-size="6.0" font-weight="bold" text-anchor="middle" fill="#000" textLength="37.84" lengthAdjust="spacingAndGlyphs">Taxus baccata</text>
<text x="373.90" y="492.16" font-size="6.0" font-weight="bold" text-anchor="middle" fill="#000" textLength="7.71" lengthAdjust="spacingAndGlyphs">1.5</text>
<text x="401.80" y="494.76" font-size="6.0" font-weight="bold" text-anchor="middle" fill="#000" textLength="22.51" lengthAdjust="spacingAndGlyphs">Thevetia</text>
<text x="401.80" y="502.66" font-size="6.0" font-weight="bold" text-anchor="middle" fill="#000" textLength="26.22" lengthAdjust="spacingAndGlyphs">peruviana</text>
<text x="401.80" y="510.56" font-size="6.0" font-weight="bold" text-anchor="middle" fill="#000" textLength="7.71" lengthAdjust="spacingAndGlyphs">1.5</text>
<polyline points="418.60,484.70 418.60,511.70" fill="none" stroke="#a6a6a6" stroke-width="0.7"/>
<text x="429.60" y="514.46" font-size="6.0" font-weight="bold" text-anchor="middle" fill="#000" textLength="29.92" lengthAdjust="spacingAndGlyphs">Convallaria</text>
<text x="429.60" y="522.36" font-size="6.0" font-weight="bold" text-anchor="middle" fill="#000" textLength="18.82" lengthAdjust="spacingAndGlyphs">majalis</text>
<text x="429.60" y="530.26" font-size="6.0" font-weight="bold" text-anchor="middle" fill="#000" textLength="7.71" lengthAdjust="spacingAndGlyphs">1.5</text>
<polyline points="366.00,550.30 386.50,549.30" fill="none" stroke="#a6a6a6" stroke-width="0.7"/>
<text x="401.30" y="541.16" font-size="6.0" font-weight="bold" text-anchor="middle" fill="#000" textLength="22.21" lengthAdjust="spacingAndGlyphs">Galerina</text>
<text x="401.30" y="549.51" font-size="6.0" font-weight="bold" text-anchor="middle" fill="#000" textLength="26.52" lengthAdjust="spacingAndGlyphs">marginata</text>
<text x="401.30" y="557.86" font-size="6.0" font-weight="bold" text-anchor="middle" fill="#000" textLength="7.71" lengthAdjust="spacingAndGlyphs">0.3</text>
<text x="387.80" y="604.46" font-size="6.0" font-weight="bold" text-anchor="middle" fill="#000" textLength="32.06" lengthAdjust="spacingAndGlyphs">Unidentified</text>
<text x="387.80" y="612.46" font-size="6.0" font-weight="bold" text-anchor="middle" fill="#000" textLength="28.68" lengthAdjust="spacingAndGlyphs">mushroom</text>
<text x="387.80" y="620.46" font-size="6.0" font-weight="bold" text-anchor="middle" fill="#000" textLength="10.8" lengthAdjust="spacingAndGlyphs">52.6</text>
<text x="343.50" y="582.86" font-size="6.0" font-weight="bold" text-anchor="middle" fill="#000" textLength="28.37" lengthAdjust="spacingAndGlyphs">Poisonous</text>
<text x="343.50" y="591.21" font-size="6.0" font-weight="bold" text-anchor="middle" fill="#000" textLength="20.97" lengthAdjust="spacingAndGlyphs">amanita</text>
<text x="343.50" y="599.56" font-size="6.0" font-weight="bold" text-anchor="middle" fill="#000" textLength="10.8" lengthAdjust="spacingAndGlyphs">30.0</text>
<text x="333.90" y="635.56" font-size="6.0" font-weight="bold" text-anchor="middle" fill="#000" textLength="28.37" lengthAdjust="spacingAndGlyphs">Poisonous</text>
<text x="333.90" y="643.61" font-size="6.0" font-weight="bold" text-anchor="middle" fill="#000" textLength="17.88" lengthAdjust="spacingAndGlyphs">lepiota</text>
<text x="333.90" y="651.66" font-size="6.0" font-weight="bold" text-anchor="middle" fill="#000" textLength="10.8" lengthAdjust="spacingAndGlyphs">13.5</text>
<polyline points="297.00,661.70 343.50,663.30" fill="none" stroke="#a6a6a6" stroke-width="0.7"/>
<text x="286.80" y="662.86" font-size="6.0" font-weight="bold" text-anchor="middle" fill="#000" textLength="17.89" lengthAdjust="spacingAndGlyphs">Others</text>
<text x="286.80" y="670.86" font-size="6.0" font-weight="bold" text-anchor="middle" fill="#000" textLength="7.71" lengthAdjust="spacingAndGlyphs">1.2</text>
<polyline points="345.80,673.40 348.80,673.40 350.30,666.00" fill="none" stroke="#a6a6a6" stroke-width="0.7"/>
<text x="321.60" y="674.16" font-size="6.0" font-weight="bold" text-anchor="middle" fill="#000" textLength="45.02" lengthAdjust="spacingAndGlyphs">Other mushroom</text>
<text x="321.60" y="681.46" font-size="6.0" font-weight="bold" text-anchor="middle" fill="#000" textLength="7.71" lengthAdjust="spacingAndGlyphs">2.4</text>
<text x="318.30" y="701.36" font-size="6.0" font-weight="bold" text-anchor="middle" fill="#000" textLength="63.39" lengthAdjust="spacingAndGlyphs">Beta blockers + calcium</text>
<text x="318.30" y="709.36" font-size="6.0" font-weight="bold" text-anchor="middle" fill="#000" textLength="42.25" lengthAdjust="spacingAndGlyphs">channel blocker</text>
<text x="318.30" y="717.36" font-size="6.0" font-weight="bold" text-anchor="middle" fill="#000" textLength="7.71" lengthAdjust="spacingAndGlyphs">8.0</text>
<text x="338.70" y="748.96" font-size="6.0" font-weight="bold" text-anchor="middle" fill="#000" textLength="36.4" lengthAdjust="spacingAndGlyphs">Beta blockers</text>
<text x="338.70" y="756.96" font-size="6.0" font-weight="bold" text-anchor="middle" fill="#000" textLength="10.8" lengthAdjust="spacingAndGlyphs">18.5</text>
<text x="330.60" y="781.66" font-size="6.0" font-weight="bold" text-anchor="middle" fill="#000" textLength="17.89" lengthAdjust="spacingAndGlyphs">Others</text>
<text x="330.60" y="789.76" font-size="6.0" font-weight="bold" text-anchor="middle" fill="#000" textLength="10.8" lengthAdjust="spacingAndGlyphs">12.9</text>
<text x="407.70" y="771.46" font-size="6.0" font-weight="bold" text-anchor="middle" fill="#000" textLength="44.1" lengthAdjust="spacingAndGlyphs">Calcium channel</text>
<text x="407.70" y="779.31" font-size="6.0" font-weight="bold" text-anchor="middle" fill="#000" textLength="19.74" lengthAdjust="spacingAndGlyphs">blocker</text>
<text x="407.70" y="787.16" font-size="6.0" font-weight="bold" text-anchor="middle" fill="#000" textLength="10.8" lengthAdjust="spacingAndGlyphs">60.6</text>
<text x="388.50" y="879.16" font-size="6.0" font-weight="bold" text-anchor="middle" fill="#000" textLength="35.77" lengthAdjust="spacingAndGlyphs">Other alcohol</text>
<text x="388.50" y="887.16" font-size="6.0" font-weight="bold" text-anchor="middle" fill="#000" textLength="10.8" lengthAdjust="spacingAndGlyphs">21.3</text>
<text x="392.30" y="920.86" font-size="6.0" font-weight="bold" text-anchor="middle" fill="#000" textLength="17.89" lengthAdjust="spacingAndGlyphs">Others</text>
<text x="392.30" y="928.96" font-size="6.0" font-weight="bold" text-anchor="middle" fill="#000" textLength="10.8" lengthAdjust="spacingAndGlyphs">24.3</text>
<text x="330.60" y="899.36" font-size="6.0" font-weight="bold" text-anchor="middle" fill="#000" textLength="40.71" lengthAdjust="spacingAndGlyphs">Ethylene glycol</text>
<text x="330.60" y="907.06" font-size="6.0" font-weight="bold" text-anchor="middle" fill="#000" textLength="10.8" lengthAdjust="spacingAndGlyphs">47.8</text>
<text x="363.40" y="952.96" font-size="6.0" font-weight="bold" text-anchor="middle" fill="#000" textLength="24.35" lengthAdjust="spacingAndGlyphs">Methanol</text>
<text x="363.40" y="961.06" font-size="6.0" font-weight="bold" text-anchor="middle" fill="#000" textLength="7.71" lengthAdjust="spacingAndGlyphs">6.6</text>
</svg>
</body></html>
